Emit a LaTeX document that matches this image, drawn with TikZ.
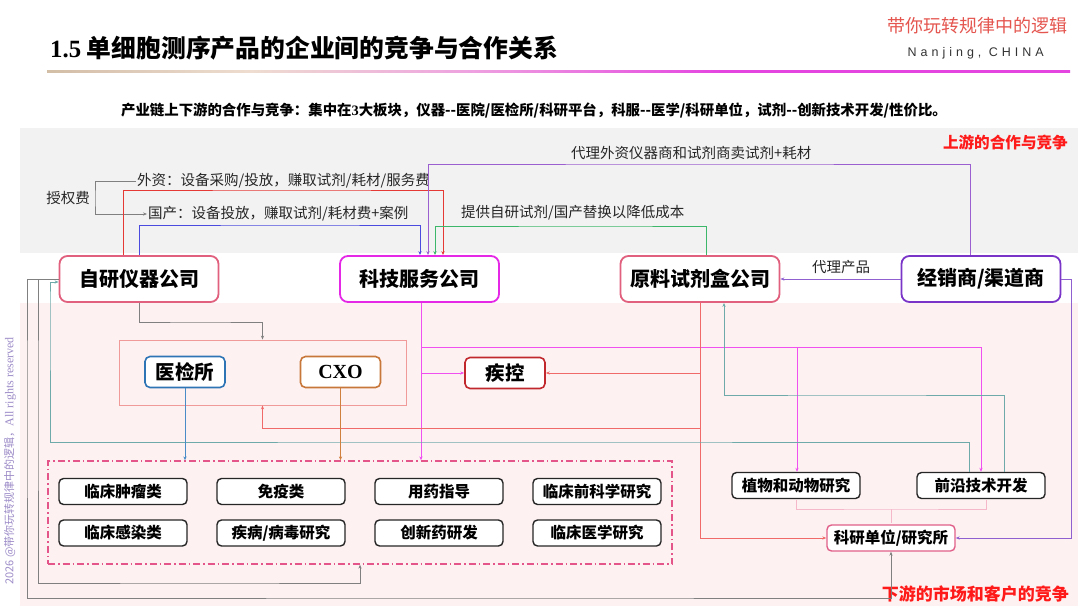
\documentclass[tikz,border=0pt]{standalone}
\usepackage{fontspec}
\setmainfont{Noto Sans CJK SC}
\newfontfamily\tnr{Liberation Serif}
\newfontfamily\nanjing[LetterSpace=32]{Liberation Sans}
\usetikzlibrary{arrows.meta,calc}
\definecolor{graybg}{HTML}{F2F2F2}
\definecolor{pinkbg}{HTML}{FEF1F1}
\definecolor{brandred}{HTML}{E5554F}
\definecolor{hdred}{HTML}{FF1A1A}
\definecolor{zyc}{HTML}{E0607E}
\definecolor{kjc}{HTML}{E528E5}
\definecolor{jxc}{HTML}{7A35C8}
\definecolor{yjc}{HTML}{2E75B6}
\definecolor{cxoc}{HTML}{C8773A}
\definecolor{jkc}{HTML}{C0282D}
\definecolor{kyc}{HTML}{E0608A}
\definecolor{dashc}{HTML}{E4558A}
\definecolor{midc}{HTML}{F09A9A}
\definecolor{upred}{HTML}{E53935}
\definecolor{upblue}{HTML}{4B4BE0}
\definecolor{uppurple}{HTML}{9B5FD0}
\definecolor{upgreen}{HTML}{3DB86A}
\definecolor{jxline}{HTML}{9060D0}
\definecolor{lowred}{HTML}{F06A6A}
\definecolor{magc}{HTML}{F050F0}
\definecolor{tealc}{HTML}{6FAAAA}
\definecolor{grayc}{HTML}{808080}
\definecolor{bluec}{HTML}{4A8CC8}
\definecolor{orgc}{HTML}{D0803E}
\definecolor{brkc}{HTML}{F5B8CB}
\definecolor{wmc}{HTML}{9D8CC8}
\definecolor{tlA}{HTML}{3A3A3A}
\definecolor{tlB}{HTML}{BFA78A}
\definecolor{tlC}{HTML}{EEDDD0}
\definecolor{tlD}{HTML}{EE9FE0}
\definecolor{tlE}{HTML}{E444E0}
\definecolor{tlF}{HTML}{E0405A}
\pgfdeclarehorizontalshading{titleline}{100bp}{color(0bp)=(tlA); color(18bp)=(tlB); color(35bp)=(tlC); color(46bp)=(tlD); color(58bp)=(tlE); color(78bp)=(tlE); color(100bp)=(tlF)}
\begin{document}
\begin{tikzpicture}[x=1pt,y=-1pt,
  mainbox/.style={draw, line width=1.8pt, rounded corners=8pt, fill=white, minimum width=159pt, minimum height=46pt, inner sep=0pt, font=\fontsize{20}{22}\selectfont\bfseries},
  midnode/.style={draw, line width=1.6pt, rounded corners=5pt, fill=white, minimum width=80pt, minimum height=31pt, inner sep=0pt, font=\fontsize{19.5}{22}\selectfont\bfseries},
  smallbox/.style={draw=black!85, line width=1.4pt, rounded corners=4.5pt, fill=white, minimum width=128pt, minimum height=26pt, inner sep=0pt, font=\fontsize{15.5}{17}\selectfont\bfseries},
  lbl/.style={inner sep=1pt, font=\fontsize{14.5}{16}\selectfont, text=black!85},
  conn/.style={line width=0.9pt, -{Stealth[length=4pt,width=3.2pt]}},
  brk/.style={line width=1pt, draw=brkc},
]
\useasboundingbox (0,0) rectangle (1080,608);
\fill[white] (0,0) rectangle (1080,608);
\fill[graybg] (20,128) rectangle (1078,253);
\fill[pinkbg] (20,303) rectangle (1078,606);

% header
\node[anchor=west, inner sep=0pt, font=\fontsize{24.8}{27}\selectfont\bfseries] (title) at (50,48) {{\tnr 1.5} 单细胞测序产品的企业间的竞争与合作关系};
\shade[shading=titleline] (47,70) rectangle (1070,72.2);
\node[anchor=east, inner sep=0pt, text=brandred, font=\fontsize{18}{20}\selectfont] (brand) at (1068,26) {带你玩转规律中的逻辑};
\node[anchor=east, inner sep=0pt, text=black!80, font=\nanjing\fontsize{12.5}{14}\selectfont] (place) at (1044,53) {Nanjing,\ CHINA};
\node[inner sep=0pt, font=\fontsize{14.4}{16}\selectfont\bfseries] (sub) at (534,110) {产业链上下游的合作与竞争：集中在{\tnr\bfseries 3}大板块，仪器-{}-医院/医检所/科研平台，科服-{}-医学/科研单位，试剂-{}-创新技术开发/性价比。};

% watermark
\node[rotate=90, anchor=west, inner sep=0pt, text=wmc, font=\fontsize{11}{13}\selectfont] (wm) at (10,585) {2026 @带你玩转规律中的逻辑，{\tnr\fontsize{12}{13}\selectfont All rights reserved}};

% section labels
\node[anchor=east, inner sep=0pt, text=hdred, font=\fontsize{15.6}{17}\selectfont\bfseries] (up) at (1068,142) {上游的合作与竞争};
\node[anchor=east, inner sep=0pt, text=hdred, font=\fontsize{17}{19}\selectfont\bfseries] (down) at (1069,594) {下游的市场和客户的竞争};

% upper labels
\node[lbl, anchor=west] (wz) at (136,181) {外资：设备采购/投放，赚取试剂/耗材/服务费};
\node[lbl, anchor=west] (gc) at (147,214) {国产：设备投放，赚取试剂/耗材费+案例};
\node[lbl] (sq) at (68,198) {授权费};
\node[lbl, anchor=west] (dl) at (570,153) {代理外资仪器商和试剂商卖试剂+耗材};
\node[lbl, anchor=west] (tg) at (460,213) {提供自研试剂/国产替换以降低成本};
\node[lbl] (dp) at (841,267) {代理产品};

% main nodes
\node[mainbox, draw=zyc] (zy) at (139,279) {自研仪器公司};
\node[mainbox, draw=kjc] (kj) at (419.5,279) {科技服务公司};
\node[mainbox, draw=zyc] (yl) at (700,279) {原料试剂盒公司};
\node[mainbox, draw=jxc] (jx) at (981,279) {经销商/渠道商};

% middle group
\node[draw=midc, line width=0.8pt, fill=pinkbg, minimum width=287pt, minimum height=65pt, inner sep=0pt] (mb) at (262.5,372.5) {};
\node[midnode, draw=yjc] (yj) at (185,372) {医检所};
\node[midnode, draw=cxoc, font=\tnr\fontsize{20}{22}\selectfont\bfseries] (cxo) at (340.5,372) {CXO};
\node[midnode, draw=jkc] (jk) at (505,373) {疾控};

% dash-dot group
\node[draw=dashc, line width=1.3pt, dash pattern=on 7pt off 3pt on 1.5pt off 3pt, minimum width=624pt, minimum height=103pt, inner sep=0pt] (db) at (360,512.5) {};
\node[smallbox] (b1) at (123,491.5) {临床肿瘤类};
\node[smallbox] (b2) at (281,491.5) {免疫类};
\node[smallbox] (b3) at (439,491.5) {用药指导};
\node[smallbox] (b4) at (597,491.5) {临床前科学研究};
\node[smallbox] (b5) at (123,533) {临床感染类};
\node[smallbox] (b6) at (281,533) {疾病/病毒研究};
\node[smallbox] (b7) at (439,533) {创新药研发};
\node[smallbox] (b8) at (597,533) {临床医学研究};

% right group
\node[smallbox] (zw) at (796,485.5) {植物和动物研究};
\node[smallbox] (qy) at (981,485.5) {前沿技术开发};
\node[smallbox, draw=kyc] (ky) at (891,538) {科研单位/研究所};

% bracket
\coordinate (bk) at (891,509);
\draw[brk] ([yshift=-1pt]zw.south) |- (bk) -| ([xshift=5pt,yshift=-1pt]qy.south);
\draw[brk] (bk) -- ([yshift=1pt]ky.north);

% upper connectors
\draw[line width=0.9pt, draw=grayc, -{Stealth[length=4pt,width=3.2pt]}] (wz.west) -| (95,199) |- (gc.west);
\draw[conn, upred] ([xshift=-16pt]zy.north) |- (300,190) -| ([xshift=23.5pt]kj.north);
\draw[conn, upblue] (zy.north) |- (300,225) -| ([xshift=0.5pt]kj.north);
\draw[conn, uppurple] ([xshift=-11pt]jx.north) |- (700,164) -| ([xshift=8.5pt]kj.north);
\draw[conn, upgreen] ([xshift=6pt]yl.north) |- (600,226) -| ([xshift=15.5pt]kj.north);
\draw[conn, jxline] (jx.west) -- (yl.east);
\draw[conn, jxline] (jx.east) -- (1071,279) |- (ky.east);

% lower connectors
\draw[conn, grayc] (zy.south) |- (200,322) -| (mb.north);
\draw[conn, magc] ([xshift=1.5pt]kj.south) -- ([xshift=61pt]db.north);
\coordinate (mA) at (421,373);
\coordinate (mB) at (421,347);
\draw[conn, magc] (mA) -- (jk.west);
\draw[conn, magc] (mB) -| ([xshift=1pt]zw.north);
\draw[conn, magc] (mB) -| (qy.north);
\draw[conn, lowred] (yl.south) |- (ky.west);
\coordinate (rA) at (700,373);
\coordinate (rB) at (700,428);
\draw[conn, lowred] (rA) -- (jk.east);
\draw[conn, lowred] (rB) -| (mb.south);
\draw[conn, tealc] ([xshift=23pt]qy.north) |- (850,395) -| ([xshift=24pt]yl.south);
\draw[conn, tealc] ([xshift=-12pt]qy.north) |- (500,442) -| (50,300) |- ([yshift=-3pt]zy.west);
\draw[conn, grayc] (zy.west) -| (27,400) |- (500,598) -| (ky.south);
\draw[conn, grayc] (zy.west) -| (38,400) |- (200,583) -| (db.south);
\draw[conn, bluec] (yj.south) -- (yj.south |- db.north);
\draw[conn, orgc] (cxo.south) -- (cxo.south |- db.north);
\end{tikzpicture}
\end{document}
